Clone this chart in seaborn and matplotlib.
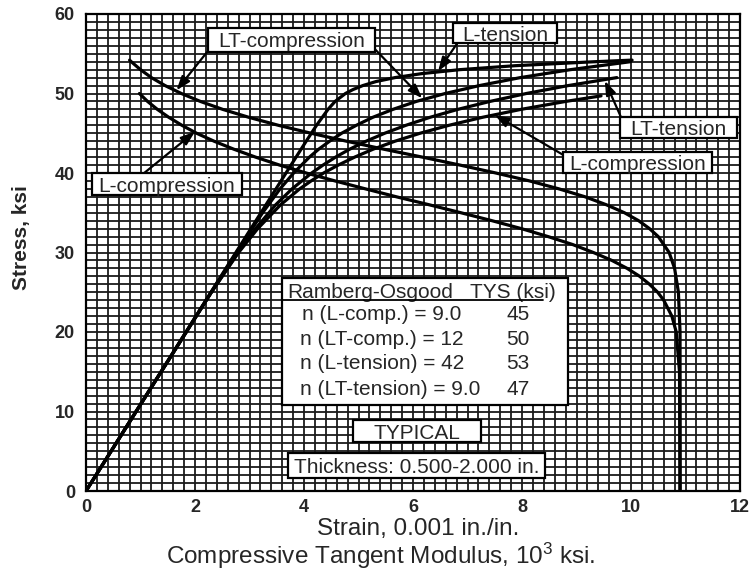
import numpy as np
import pandas as pd
import matplotlib
matplotlib.use("Agg")
import matplotlib.pyplot as plt
from matplotlib.patches import Rectangle
import seaborn as sns

# ---- stress-strain curves: stress (ksi) vs strain (0.001 in./in.) ----
l_tension_stress = [0, 30, 40, 44, 46, 48, 49, 50, 50.5, 51, 51.5, 52, 52.5, 53, 53.5, 54, 54.2]
l_tension_strain = [0, 2.75, 3.67, 4.04, 4.23, 4.44, 4.57, 4.76, 4.90, 5.08, 5.32, 5.67, 6.16, 6.86, 7.88, 9.34, 10.02]

lt_comp_stress = [0, 30, 35, 38, 40, 42, 43, 44, 45, 46, 47, 48, 49, 50, 51, 52, 53, 54]
lt_comp_strain = [0, 2.76, 3.24, 3.56, 3.81, 4.10, 4.27, 4.47, 4.69, 4.96, 5.26, 5.63, 6.06, 6.59, 7.22, 7.97, 8.89, 9.99]

lt_tension_stress = [0, 25, 30, 33, 36, 38, 40, 41, 42, 43, 44, 45, 46, 47, 48, 49, 50, 51, 52]
lt_tension_strain = [0, 2.30, 2.79, 3.11, 3.48, 3.78, 4.14, 4.35, 4.58, 4.84, 5.14, 5.48, 5.87, 6.31, 6.82, 7.41, 8.08, 8.85, 9.74]

l_comp_stress = [0, 25, 28, 30, 33, 36, 38, 39, 40, 41, 42, 43, 44, 45, 46, 47, 48, 49, 49.7]
l_comp_strain = [0, 2.30, 2.60, 2.80, 3.15, 3.57, 3.92, 4.13, 4.36, 4.63, 4.93, 5.27, 5.67, 6.13, 6.66, 7.27, 7.98, 8.80, 9.45]

# ---- compressive tangent modulus curves: stress (ksi) vs Et (10^3 ksi) ----
lt_comp_tm_stress = [54.2, 54, 53, 52, 51, 50, 49, 48, 47, 46, 45, 44, 43, 42, 41, 40,
                     39, 38, 37, 36, 35, 34, 33, 32, 30, 28, 25, 20, 0]
lt_comp_tm_modulus = [0.80, 0.83, 1.00, 1.20, 1.45, 1.75, 2.10, 2.51, 2.99, 3.53, 4.13, 4.78,
                      5.46, 6.17, 6.86, 7.52, 8.14, 8.68, 9.16, 9.55, 9.88, 10.14, 10.34,
                      10.50, 10.70, 10.80, 10.87, 10.90, 10.90]

l_comp_tm_stress = [50, 49, 48, 47, 46, 45, 44, 43, 42, 41, 40, 39, 38, 37, 36, 35, 34, 33,
                    32, 31, 30, 29, 28, 27, 26, 25, 24, 22, 20, 15, 0]
l_comp_tm_modulus = [0.98, 1.13, 1.31, 1.52, 1.76, 2.03, 2.35, 2.71, 3.11, 3.55, 4.04, 4.57,
                     5.13, 5.70, 6.30, 6.88, 7.45, 7.99, 8.48, 8.93, 9.31, 9.65, 9.93, 10.16,
                     10.34, 10.49, 10.60, 10.75, 10.83, 10.89, 10.90]

# ---- table contents ----
table_header = ["Ramberg-Osgood", "TYS (ksi)"]
table_labels = ["n (L-comp.) = 9.0", "n (LT-comp.) = 12", "n (L-tension) = 42", "n (LT-tension) = 9.0"]
table_tys = ["45", "50", "53", "47"]

x_ticks = [0, 2, 4, 6, 8, 10, 12]
y_ticks = [0, 10, 20, 30, 40, 50, 60]

sns.set_theme(style="white")
plt.rcParams["font.family"] = ["Liberation Sans", "DejaVu Sans"]
plt.rcParams["mathtext.fontset"] = "custom"
plt.rcParams["mathtext.rm"] = "Liberation Sans"
plt.rcParams["mathtext.it"] = "Liberation Sans:italic"
plt.rcParams["mathtext.bf"] = "Liberation Sans:bold"

W, H = 751, 573
fig = plt.figure(figsize=(W / 100, H / 100), dpi=100)
fig.patch.set_facecolor("white")
ax = fig.add_axes([86 / W, 1 - 491 / H, (740 - 86) / W, (491 - 14) / H])
ax.set_facecolor("white")

curves = [
    ("L-tension", l_tension_strain, l_tension_stress),
    ("LT-compression", lt_comp_strain, lt_comp_stress),
    ("LT-tension", lt_tension_strain, lt_tension_stress),
    ("L-compression", l_comp_strain, l_comp_stress),
    ("LT-compression Et", lt_comp_tm_modulus, lt_comp_tm_stress),
    ("L-compression Et", l_comp_tm_modulus, l_comp_tm_stress),
]
df = pd.concat(
    [pd.DataFrame({"curve": name, "x": xs, "y": ys}) for name, xs, ys in curves],
    ignore_index=True,
)
sns.lineplot(data=df, x="x", y="y", units="curve", estimator=None, sort=False,
             color="black", lw=2.3, ax=ax, zorder=3)

# fine graph-paper grid
ax.set_xlim(0, 12)
ax.set_ylim(0, 60)
ax.set_xticks(x_ticks)
ax.set_yticks(y_ticks)
ax.set_xticks(np.arange(0, 12.001, 0.2), minor=True)
ax.set_yticks(np.arange(0, 60.001, 1), minor=True)
ax.grid(which="both", color="#1a1a1a", lw=1.3)
ax.set_axisbelow(True)
ax.tick_params(which="both", length=0)
ax.tick_params(axis="x", pad=6)
ax.tick_params(axis="y", pad=8)
ax.set_xticklabels([str(t) for t in x_ticks], fontsize=13, fontweight="bold")
ax.set_yticklabels([str(t) for t in y_ticks], fontsize=13, fontweight="bold")
for s in ax.spines.values():
    s.set_color("black")
    s.set_linewidth(1.6)
ax.set_xlabel("")
ax.set_ylabel("")

fig.text(22 / W, 1 - 238 / H, "Stress, ksi", rotation=90, fontsize=15,
         fontweight="bold", ha="center", va="center")
fig.text(418 / W, 1 - 535 / H, "Strain, 0.001 in./in.", fontsize=17.5,
         ha="center", va="baseline")
fig.text(381 / W, 1 - 564 / H, r"Compressive Tangent Modulus, 10$^3$ ksi.", fontsize=17.5,
         ha="center", va="baseline")


def box(x0, x1, y0, y1, lw=1.6):
    ax.add_patch(Rectangle((x0, y0), x1 - x0, y1 - y0, facecolor="white",
                           edgecolor="black", lw=lw, zorder=5))


def label_box(text, x0, x1, y0, y1):
    box(x0, x1, y0, y1)
    ax.text((x0 + x1) / 2, (y0 + y1) / 2, text, fontsize=15, ha="center",
            va="center_baseline", zorder=6)


def arrow(start, tip):
    ax.annotate("", xy=tip, xytext=start, zorder=4,
                arrowprops=dict(arrowstyle="-|>,head_length=0.7,head_width=0.25",
                                color="black", lw=1.6, shrinkA=0, shrinkB=0))


# curve callouts
arrow((2.22, 55.2), (1.66, 50.4))
arrow((5.27, 55.8), (6.17, 49.4))
label_box("LT-compression", 2.24, 5.30, 55.22, 58.24)

arrow((6.81, 56.3), (6.46, 52.8))
label_box("L-tension", 6.73, 8.64, 56.35, 58.87)

arrow((9.98, 44.5), (9.52, 51.6))
label_box("LT-tension", 9.80, 11.94, 44.40, 47.04)

arrow((9.30, 40.1), (7.50, 47.3))
label_box("L-compression", 8.75, 11.49, 40.0, 42.64)

arrow((1.05, 39.9), (2.00, 45.2))
label_box("L-compression", 0.11, 2.86, 37.23, 40.0)

# Ramberg-Osgood table
box(3.60, 8.84, 10.82, 26.79)
ax.text(3.69, 25.28, table_header[0], fontsize=15, ha="left", va="center_baseline", zorder=6)
ax.text(7.05, 25.28, table_header[1], fontsize=15, ha="left", va="center_baseline", zorder=6)
ax.plot([3.62, 8.39], [24.0, 24.0], color="black", lw=1.3, zorder=6)
row_y = [22.39, 19.37, 16.23, 13.08]
row_x = [3.96, 3.93, 3.93, 3.92]
for lab, tys, yy, xx in zip(table_labels, table_tys, row_y, row_x):
    ax.text(xx, yy, lab, fontsize=15, ha="left", va="center_baseline", zorder=6)
    ax.text(7.93, yy, tys, fontsize=15, ha="center", va="center_baseline", zorder=6)

label_box("TYPICAL", 4.90, 7.25, 6.16, 8.93)
label_box("Thickness: 0.500-2.000 in.", 3.71, 8.42, 1.64, 4.78)

fig.savefig("out.png", dpi=100, facecolor="white")
